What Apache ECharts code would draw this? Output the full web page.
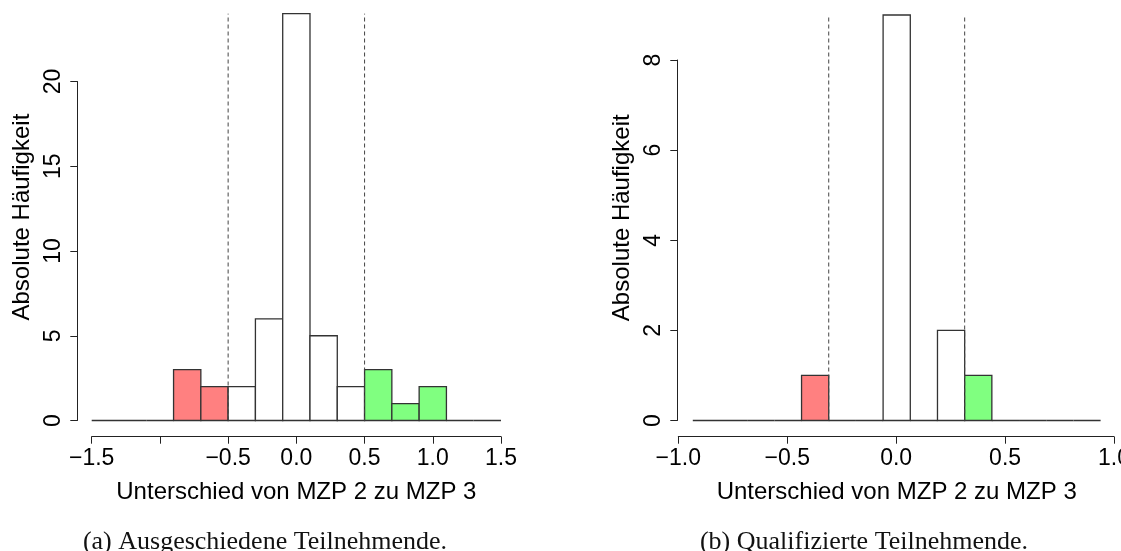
<!DOCTYPE html>
<html>
<head>
<meta charset="utf-8">
<script src="https://cdn.jsdelivr.net/npm/echarts@6/dist/echarts.min.js"></script>
<style>
html,body{margin:0;padding:0;background:#fff;}
#chart{width:1121px;height:551px;}
</style>
</head>
<body>
<div id="chart"></div>
<script>
// ---- data ----
const leftBreaks = [-1.5, -1.3, -1.1, -0.9, -0.7, -0.5, -0.3, -0.1, 0.1, 0.3, 0.5, 0.7, 0.9, 1.1, 1.3, 1.5];
const leftCounts = [0, 0, 0, 3, 2, 2, 6, 24, 5, 2, 3, 1, 2, 0, 0];
const leftThresholds = [-0.5, 0.5];
const leftYTicks = [0, 5, 10, 15, 20];
const leftXTicks = [-1.5, -1.0, -0.5, 0, 0.5, 1.0, 1.5];
const leftXLabels = [-1.5, -0.5, 0, 0.5, 1.0, 1.5];

const rightBreaks = [-0.9375, -0.8125, -0.6875, -0.5625, -0.4375, -0.3125, -0.1875, -0.0625, 0.0625, 0.1875, 0.3125, 0.4375, 0.5625, 0.6875, 0.8125, 0.9375];
const rightCounts = [0, 0, 0, 0, 1, 0, 0, 9, 0, 2, 1, 0, 0, 0, 0];
const rightThresholds = [-0.3125, 0.3125];
const rightYTicks = [0, 2, 4, 6, 8];
const rightXTicks = [-1.0, -0.5, 0, 0.5, 1.0];
const rightXLabels = [-1.0, -0.5, 0, 0.5, 1.0];

const yTitle = 'Absolute Häufigkeit';
const xTitle = 'Unterschied von MZP 2 zu MZP 3';
const captionA = '(a) Ausgeschiedene Teilnehmende.';
const captionB = '(b) Qualifizierte Teilnehmende.';

// ---- styling ----
const FILL = ['#ffffff', '#ff8080', '#80ff80'];
const SANS = '"Liberation Sans", Arial, Helvetica, sans-serif';
const SERIF = '"Liberation Serif", "Times New Roman", serif';
const TICK_FS = 23, TITLE_FS = 24;

function histData(breaks, counts, th) {
  return counts.map((c, i) => {
    const x0 = breaks[i], x1 = breaks[i + 1];
    let g = 0;
    if (x1 <= th[0] + 1e-9) g = 1; else if (x0 >= th[1] - 1e-9) g = 2;
    return [x0, x1, c, g];
  });
}
function renderBar(params, api) {
  const p0 = api.coord([api.value(0), 0]);
  const p1 = api.coord([api.value(1), api.value(2)]);
  return {
    type: 'rect',
    shape: { x: p0[0], y: p1[1], width: p1[0] - p0[0], height: p0[1] - p1[1] },
    style: { fill: FILL[api.value(3)], stroke: '#333', lineWidth: 1.3 }
  };
}
function renderDash(params, api) {
  const a = api.coord([api.value(0), 0]);
  const b = api.coord([api.value(0), api.value(1)]);
  return {
    type: 'line',
    shape: { x1: a[0], y1: a[1], x2: b[0], y2: b[1] },
    style: { stroke: '#444', lineWidth: 1, lineDash: [4, 3] }
  };
}
const fmt = v => (Math.abs(v) < 1e-9 ? 0 : v).toFixed(1).replace('-', '\u2212');

const hidden = { axisLine: { show: false }, axisTick: { show: false }, axisLabel: { show: false }, splitLine: { show: false } };
const lineS = { show: true, lineStyle: { color: '#222', width: 1 } };

function panel(gBase, cfg) {
  const grids = [
    { left: cfg.dataLeft, top: cfg.dataTop, width: cfg.dataWidth, height: cfg.dataHeight, containLabel: false, outerBoundsMode: 'none' },
    { left: cfg.yAxisX, top: cfg.yAxisTop, width: 2, height: cfg.yAxisHeight, containLabel: false, outerBoundsMode: 'none' },
    { left: cfg.xAxisLeft, top: cfg.xAxisY - 2, width: cfg.xAxisWidth, height: 2, containLabel: false, outerBoundsMode: 'none' }
  ];
  const xAxes = [
    Object.assign({ type: 'value', gridIndex: gBase, min: cfg.breaks[0], max: cfg.breaks[cfg.breaks.length - 1],
      name: xTitle, nameLocation: 'middle', nameGap: cfg.xNameGap,
      nameTextStyle: { fontFamily: SANS, fontSize: TITLE_FS, color: '#000', verticalAlign: 'middle' } }, hidden),
    Object.assign({ type: 'value', gridIndex: gBase + 1, min: 0, max: 1 }, hidden, { show: false }),
    { type: 'value', gridIndex: gBase + 2, position: 'bottom', min: cfg.xTicks[0], max: cfg.xTicks[cfg.xTicks.length - 1],
      interval: 0.5,
      axisLine: lineS,
      axisTick: { show: true, length: 7, inside: false, lineStyle: { color: '#222', width: 1 }, customValues: cfg.xTicks },
      axisLabel: { show: true, margin: 10, fontFamily: SANS, fontSize: TICK_FS, color: '#000', formatter: fmt,
        customValues: cfg.xLabels, showMinLabel: true, showMaxLabel: true, hideOverlap: false },
      splitLine: { show: false } }
  ];
  const yAxes = [
    Object.assign({ type: 'value', gridIndex: gBase, min: 0, max: cfg.yMax,
      name: yTitle, nameLocation: 'middle', nameGap: cfg.yNameGap, nameRotate: 90,
      nameTextStyle: { fontFamily: SANS, fontSize: TITLE_FS, color: '#000', verticalAlign: 'middle', align: 'center' } }, hidden),
    { type: 'value', gridIndex: gBase + 1, position: 'left', min: 0, max: cfg.yTicks[cfg.yTicks.length - 1],
      interval: cfg.yTicks[1] - cfg.yTicks[0],
      axisLine: lineS,
      axisTick: { show: true, length: 7, inside: false, lineStyle: { color: '#222', width: 1 }, customValues: cfg.yTicks },
      axisLabel: { show: true, rotate: 90, margin: 12, align: 'center', verticalAlign: 'bottom',
        fontFamily: SANS, fontSize: TICK_FS, color: '#000', customValues: cfg.yTicks, showMinLabel: true, showMaxLabel: true },
      splitLine: { show: false } },
    Object.assign({ type: 'value', gridIndex: gBase + 2, min: 0, max: 1 }, hidden, { show: false })
  ];
  const series = [
    { type: 'custom', xAxisIndex: gBase, yAxisIndex: gBase, renderItem: renderBar, clip: false, silent: true,
      data: histData(cfg.breaks, cfg.counts, cfg.th), z: 2 },
    { type: 'custom', xAxisIndex: gBase, yAxisIndex: gBase, renderItem: renderDash, clip: false, silent: true,
      data: cfg.th.map(t => [t, Math.max(...cfg.counts)]), z: 3 }
  ];
  return { grids, xAxes, yAxes, series };
}

const L = panel(0, {
  breaks: leftBreaks, counts: leftCounts, th: leftThresholds,
  yTicks: leftYTicks, xTicks: leftXTicks, xLabels: leftXLabels, yMax: 24,
  dataLeft: 91.7, dataWidth: 409.3, dataTop: 13.7, dataHeight: 406.8,
  yAxisX: 77.3, yAxisTop: 81.5, yAxisHeight: 339,
  xAxisLeft: 91.7, xAxisWidth: 409.3, xAxisY: 436.7,
  xNameGap: 72, yNameGap: 69
});
const R = panel(3, {
  breaks: rightBreaks, counts: rightCounts, th: rightThresholds,
  yTicks: rightYTicks, xTicks: rightXTicks, xLabels: rightXLabels, yMax: 9,
  dataLeft: 692.8, dataWidth: 407.8, dataTop: 15, dataHeight: 405.5,
  yAxisX: 677.3, yAxisTop: 60, yAxisHeight: 360.5,
  xAxisLeft: 678.3, xAxisWidth: 435.7, xAxisY: 436.7,
  xNameGap: 72, yNameGap: 70
});

const chart = echarts.init(document.getElementById('chart'), null, { renderer: 'canvas' });
chart.setOption({
  backgroundColor: '#ffffff',
  animation: false,
  title: [
    { text: captionA, left: 260, top: 524, textAlign: 'center',
      textStyle: { fontFamily: SERIF, fontSize: 26, fontWeight: 'normal', color: '#111' } },
    { text: captionB, left: 859, top: 524, textAlign: 'center',
      textStyle: { fontFamily: SERIF, fontSize: 26, fontWeight: 'normal', color: '#111' } }
  ],
  grid: L.grids.concat(R.grids),
  xAxis: L.xAxes.concat(R.xAxes),
  yAxis: L.yAxes.concat(R.yAxes),
  series: L.series.concat(R.series)
});
</script>
</body>
</html>
